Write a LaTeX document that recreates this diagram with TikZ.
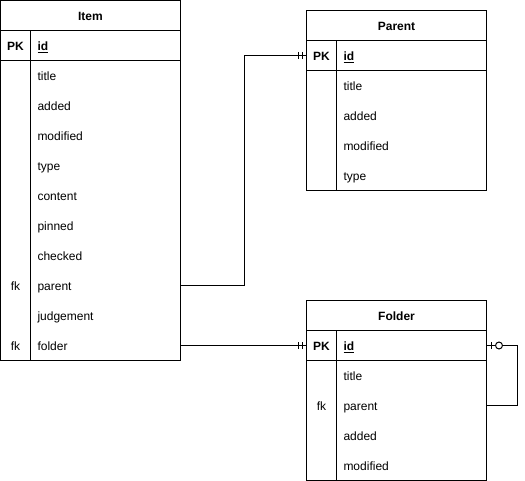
\documentclass[tikz,border=0pt]{standalone}
\usepackage{fontspec}
\setmainfont{Liberation Sans}
\usepackage{tikz}

\begin{document}
\begin{tikzpicture}[x=0.75pt,y=0.75pt,yscale=-1,xscale=1,line width=0.75pt,
        font=\fontsize{9pt}{11pt}\selectfont,
        field/.style={anchor=center, minimum width=112.5pt, text width=102pt, inner xsep=5.25pt, inner ysep=0pt, minimum height=22.5pt, align=left, text height=8.5pt, text depth=1pt},
        keycol/.style={anchor=center, minimum width=22.5pt, minimum height=22.5pt, inner sep=0pt, text height=8.5pt, text depth=1pt},
        head/.style={font=\fontsize{9pt}{11pt}\selectfont\bfseries, inner sep=0.75pt, text height=8.5pt, text depth=1pt}]
        \useasboundingbox (-0.5,-0.5) rectangle (524.5,480.5);

        %Table: Item
        \draw (0,0) rectangle (180,360);
        \draw (0,30) -- (180,30);
        \draw (0,60) -- (180,60);
        \draw (30,30) -- (30,360);
        %Table: Parent
        \draw (306,10) rectangle (486,190);
        \draw (306,40) -- (486,40);
        \draw (306,70) -- (486,70);
        \draw (336,40) -- (336,190);
        %Table: Folder
        \draw (306,300) rectangle (486,480);
        \draw (306,330) -- (486,330);
        \draw (306,360) -- (486,360);
        \draw (336,330) -- (336,480);

        % Text Node
        \node (item-head) [head] at (90,15) {Item};
        \node (item-pk) [keycol] at (15,45) {\textbf{PK}};
        \node (item-id) [field] at (105,45) {\underline{\textbf{id}}};
        \node (item-title) [field] at (105,75) {title};
        \node (item-added) [field] at (105,105) {added};
        \node (item-modified) [field] at (105,135) {modified};
        \node (item-type) [field] at (105,165) {type};
        \node (item-content) [field] at (105,195) {content};
        \node (item-pinned) [field] at (105,225) {pinned};
        \node (item-checked) [field] at (105,255) {checked};
        \node (item-fk1) [keycol] at (15,285) {fk};
        \node (item-parent) [field] at (105,285) {parent};
        \node (item-judgement) [field] at (105,315) {judgement};
        \node (item-fk2) [keycol] at (15,345) {fk};
        \node (item-folder) [field] at (105,345) {folder};

        % Text Node
        \node (parent-head) [head] at (396,25) {Parent};
        \node (parent-pk) [keycol] at (321,55) {\textbf{PK}};
        \node (parent-id) [field] at (411,55) {\underline{\textbf{id}}};
        \node (parent-title) [field] at (411,85) {title};
        \node (parent-added) [field] at (411,115) {added};
        \node (parent-modified) [field] at (411,145) {modified};
        \node (parent-type) [field] at (411,175) {type};

        % Text Node
        \node (folder-head) [head] at (396,315) {Folder};
        \node (folder-pk) [keycol] at (321,345) {\textbf{PK}};
        \node (folder-id) [field] at (411,345) {\underline{\textbf{id}}};
        \node (folder-title) [field] at (411,375) {title};
        \node (folder-fk) [keycol] at (321,405) {fk};
        \node (folder-parent) [field] at (411,405) {parent};
        \node (folder-added) [field] at (411,435) {added};
        \node (folder-modified) [field] at (411,465) {modified};

        %Relation: Item.parent -> Parent.id
        \draw (item-parent.east) -- ++(63,0) |- (parent-pk.west);
        \draw ([xshift=-6pt]parent-pk.west) ++(0,-3.5) -- ++(0,7);
        \draw ([xshift=-3pt]parent-pk.west) ++(0,-3.5) -- ++(0,7);
        %Relation: Item.folder -> Folder.id
        \draw (item-folder.east) -- (folder-pk.west);
        \draw ([xshift=-6pt]folder-pk.west) ++(0,-3.5) -- ++(0,7);
        \draw ([xshift=-3pt]folder-pk.west) ++(0,-3.5) -- ++(0,7);
        %Relation: Folder.parent -> Folder.id
        \draw (folder-id.east) -- ++(30,0) |- (folder-parent.east);
        \draw ([xshift=3pt]folder-id.east) ++(0,-3.5) -- ++(0,7);
        \draw [fill=white] ([xshift=9pt]folder-id.east) circle [radius=2.6pt];

    \end{tikzpicture}
\end{document}
